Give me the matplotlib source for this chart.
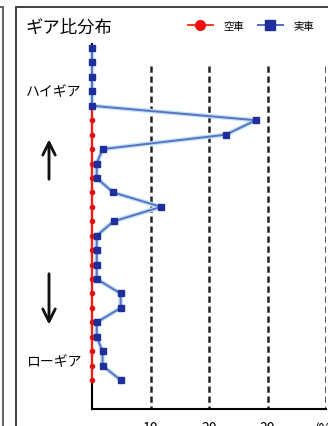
import matplotlib
matplotlib.use("Agg")
import matplotlib.pyplot as plt
from matplotlib.lines import Line2D
from matplotlib.patches import Rectangle

plt.rcParams['font.family'] = ['Noto Sans CJK JP', 'DejaVu Sans']

# ---- data ----
gears = list(range(24))  # index 0 = highest gear (top)
empty_vals = [0] * 24  # 空車
loaded_vals = [0, 0, 0, 0, 0, 28, 22.9, 1.8, 0.8, 0.8, 3.6, 11.8, 3.7, 0.8,
               0.8, 0.8, 0.8, 4.9, 4.9, 0.8, 0.8, 1.8, 1.8, 4.9]  # 実車
x_ticks = [10, 20, 30, 40]
x_ticklabels = ['10', '20', '30', '(%)']
title = 'ギア比分布'
series_names = ['空車', '実車']
high_label = 'ハイギア'
low_label = 'ローギア'

W, H = 328, 427
fig = plt.figure(figsize=(W / 100, H / 100), dpi=100)
fig.patch.set_facecolor('white')

# axes: x from px 92 to 326, y from px 45 to 410
ax = fig.add_axes([92 / W, (H - 410) / H, (326 - 92) / W, (410 - 45) / H])
ax.set_xlim(0, 40)
ax.set_ylim(25.0, -0.28)
for s in ['top', 'right']:
    ax.spines[s].set_visible(False)
ax.spines['left'].set_linewidth(1.5)
ax.spines['bottom'].set_linewidth(1.5)
ax.set_yticks([])
ax.set_xticks(x_ticks)
ax.set_xticklabels(x_ticklabels, fontsize=10)
ax.tick_params(axis='x', length=0, pad=9)

# dashed vertical grid lines
ax.vlines(x_ticks, 1.25, 25.0, colors='#222222', linestyles=(0, (2.5, 1.5)),
          linewidth=1.8, zorder=1)

# series
ax.plot(empty_vals, gears, color='#ff1a1a', lw=1.6, marker='o', ms=3,
        mfc='#e01010', mec='#e01010', zorder=3, clip_on=False)
ax.plot(loaded_vals, gears, color='#b8e4f4', lw=3.2, zorder=3.5, clip_on=False)
ax.plot(loaded_vals, gears, color='#5f6fc4', lw=1.4, marker='s', ms=4,
        mfc='#1e2e9a', mec='#1e2e9a', zorder=4, clip_on=False)

# title
fig.text(25 / W, (H - 28) / H, title, fontsize=12.5, ha='left', va='center')

# legend
handles = [Line2D([], [], color='#ff3a1a', lw=1.4, marker='o', ms=7,
                  mfc='#ee1010', mec='#ee1010'),
           Line2D([], [], color='#4a70c8', lw=1.4, marker='s', ms=7,
                  mfc='#1e2e9a', mec='#1e2e9a')]
fig.legend(handles, series_names, loc='center left', ncol=2, frameon=False,
           bbox_to_anchor=(188 / W, (H - 27) / H), fontsize=7.5,
           handlelength=2.4, handletextpad=1.0, columnspacing=1.3,
           borderaxespad=0, borderpad=0)

# left labels
fig.text(54 / W, (H - 92) / H, high_label, fontsize=10, ha='center', va='center')
fig.text(54 / W, (H - 362) / H, low_label, fontsize=10, ha='center', va='center')

# arrows
ap = dict(arrowstyle='->,head_length=0.9,head_width=0.45', lw=1.8, color='#111111')
fig.add_artist(plt.annotate('', xy=(49, H - 138), xytext=(49, H - 183),
                            xycoords='figure pixels', textcoords='figure pixels',
                            arrowprops=ap))
fig.add_artist(plt.annotate('', xy=(49, H - 328), xytext=(49, H - 272),
                            xycoords='figure pixels', textcoords='figure pixels',
                            arrowprops=ap))

# outer frame lines (scan borders)
fig.add_artist(Rectangle((15.5 / W, -0.1), 1.2, (H - 8) / H + 0.1,
                         transform=fig.transFigure, fill=False,
                         edgecolor='#333333', lw=1.3))
fig.add_artist(Rectangle((-0.5, -0.1), (3.5 / W) + 0.5, (H - 8) / H + 0.1,
                         transform=fig.transFigure, fill=False,
                         edgecolor='#555555', lw=1.3))

fig.savefig('out.png', dpi=100, facecolor='white')
